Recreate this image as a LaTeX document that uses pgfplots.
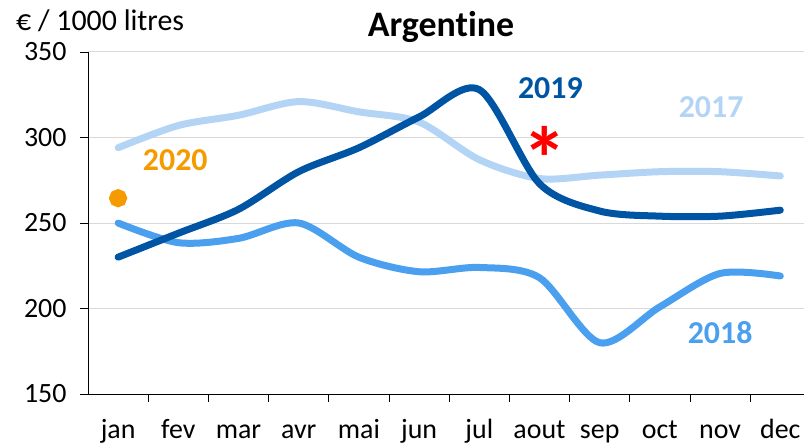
\documentclass[border=0pt]{standalone}
\usepackage{pgfplots}
\pgfplotsset{compat=1.18}
\usepackage{fontspec}
\setmainfont{Carlito}[Ligatures=NoCommon]
\definecolor{c17}{HTML}{B3D4F5}
\definecolor{c18}{HTML}{4A9FEE}
\definecolor{c19}{HTML}{0054A4}
\definecolor{c20}{HTML}{F59B00}
\definecolor{gridc}{HTML}{D9D9D9}
\begin{document}
\begin{tikzpicture}
\useasboundingbox (0,0) rectangle (804bp,445bp);
\begin{axis}[
  at={(88bp,51bp)}, anchor=south west,
  scale only axis, width=722.4bp, height=342bp,
  xmin=-0.5, xmax=11.5, ymin=150, ymax=350,
  axis x line*=bottom, axis y line*=left,
  axis line style={black, line width=0.8pt},
  xtick={0,...,11},
  xticklabels={jan,fev,mar,avr,mai,jun,jul,aout,sep,oct,nov,dec},
  minor xtick={0.5,1.5,...,10.5},
  major x tick style={draw=none},
  minor x tick style={black, line width=0.8pt},
  minor tick length=8bp,
  ytick={150,200,...,350},
  major y tick style={black, line width=0.8pt},
  major tick length=8bp,
  tick align=outside,
  ymajorgrids, grid style={gridc, line width=1pt},
  /pgf/number format/assume math mode=true,
  ticklabel style={font=\fontsize{28}{30}\selectfont},
  xticklabel style={anchor=base, yshift=-36bp},
  yticklabel style={xshift=-10bp},
  every axis plot/.append style={smooth, tension=0.5, line width=7bp, line cap=round},
]
\addplot[c17] coordinates {(0,294)(1,307)(2,313)(3,321)(4,315)(5,309)(6,287)(7,276)(8,278)(9,280)(10,280)(11,277.5)};
\addplot[c18] coordinates {(0,250)(1,238.5)(2,241)(3,250)(4,230)(5,221.5)(6,224)(7,218)(8,180)(9,201)(10,220.5)(11,219)};
\addplot[c19] coordinates {(0,230)(1,244)(2,258)(3,280)(4,294)(5,312)(6,328)(7,273)(8,257)(9,254)(10,254)(11,257.5)};
\addplot[c20, only marks, mark=*, mark size=5.5bp, mark options={draw=none, fill=c20}] coordinates {(0,264.5)};
\node[font=\fontsize{32}{34}\selectfont\bfseries, text=c20] at (axis cs:0.95,287) {2020};
\node[font=\fontsize{32}{34}\selectfont\bfseries, text=c19] at (axis cs:7.18,329) {2019};
\node[font=\fontsize{32}{34}\selectfont\bfseries, text=c17] at (axis cs:9.85,318) {2017};
\node[font=\fontsize{32}{34}\selectfont\bfseries, text=c18] at (axis cs:10.0,186) {2018};
\node[font=\fontsize{90}{90}\selectfont\bfseries, text=red] at (axis cs:7.09,288) {*};
\end{axis}
\node[font=\fontsize{36}{40}\selectfont\bfseries, anchor=base] at (441bp,408bp) {Argentine};
\node[font=\fontsize{30}{34}\selectfont, anchor=base west, inner sep=0pt] at (16bp,414bp) {€ / 1000 litres};
\end{tikzpicture}
\end{document}
